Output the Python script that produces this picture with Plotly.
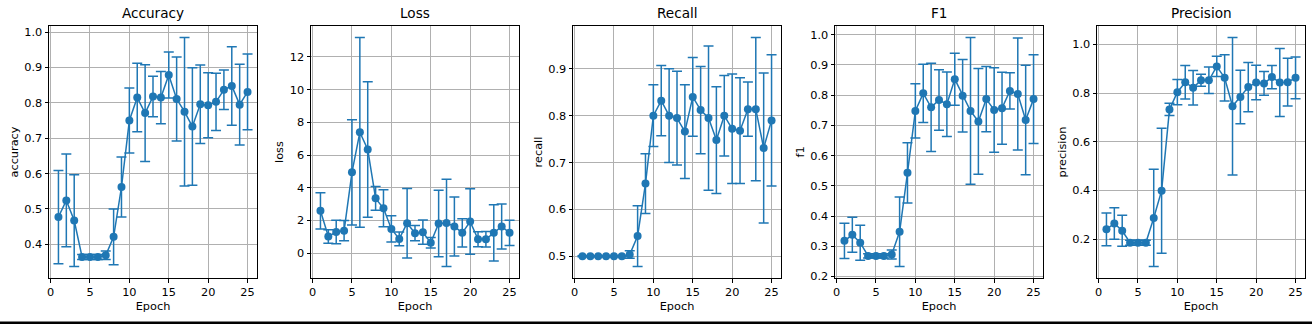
import plotly.graph_objects as go

epochs = list(range(1, 26))

accuracy = [0.477, 0.524, 0.467, 0.364, 0.364, 0.364, 0.369, 0.421, 0.562, 0.750, 0.815, 0.771, 0.818,
            0.815, 0.879, 0.811, 0.775, 0.733, 0.796, 0.793, 0.803, 0.837, 0.848, 0.795, 0.831]
accuracy_err = [0.132, 0.131, 0.130, 0.007, 0.007, 0.007, 0.012, 0.079, 0.085, 0.092, 0.097, 0.137, 0.057,
                0.074, 0.065, 0.119, 0.210, 0.166, 0.111, 0.092, 0.081, 0.056, 0.111, 0.114, 0.107]

loss = [2.59, 1.02, 1.29, 1.37, 4.94, 7.39, 6.34, 3.35, 2.74, 1.48, 0.87, 1.83, 1.22,
        1.28, 0.63, 1.81, 1.85, 1.63, 1.24, 1.93, 0.85, 0.85, 1.24, 1.63, 1.24]
loss_err = [1.11, 0.41, 0.72, 0.62, 3.22, 5.80, 4.14, 0.72, 1.13, 0.80, 0.42, 2.13, 0.47,
            0.74, 0.32, 2.03, 2.67, 1.81, 0.87, 2.00, 0.46, 0.47, 1.72, 1.38, 0.77]

recall = [0.500, 0.500, 0.500, 0.500, 0.500, 0.500, 0.5035, 0.543, 0.655, 0.800, 0.832, 0.800, 0.795,
          0.766, 0.840, 0.812, 0.795, 0.748, 0.800, 0.772, 0.768, 0.814, 0.814, 0.731, 0.790]
recall_err = [0.001, 0.001, 0.001, 0.001, 0.001, 0.001, 0.008, 0.065, 0.064, 0.066, 0.075, 0.100, 0.100,
              0.100, 0.084, 0.093, 0.154, 0.114, 0.086, 0.117, 0.113, 0.058, 0.153, 0.160, 0.140]

f1 = [0.318, 0.338, 0.312, 0.268, 0.268, 0.268, 0.273, 0.348, 0.543, 0.748, 0.806, 0.760, 0.784,
      0.770, 0.853, 0.798, 0.748, 0.713, 0.787, 0.751, 0.757, 0.814, 0.804, 0.718, 0.787]
f1_err = [0.058, 0.058, 0.058, 0.007, 0.007, 0.007, 0.015, 0.115, 0.100, 0.090, 0.096, 0.146, 0.100,
          0.107, 0.086, 0.120, 0.243, 0.175, 0.108, 0.140, 0.119, 0.060, 0.185, 0.181, 0.147]

precision = [0.240, 0.264, 0.234, 0.185, 0.185, 0.185, 0.287, 0.399, 0.733, 0.804, 0.845, 0.822, 0.853,
             0.853, 0.910, 0.863, 0.746, 0.784, 0.825, 0.844, 0.840, 0.866, 0.844, 0.845, 0.863]
precision_err = [0.067, 0.065, 0.064, 0.010, 0.010, 0.010, 0.200, 0.257, 0.025, 0.052, 0.069, 0.071, 0.025,
                 0.054, 0.042, 0.095, 0.283, 0.110, 0.101, 0.071, 0.049, 0.048, 0.140, 0.098, 0.086]

titles = ["Accuracy", "Loss", "Recall", "F1", "Precision"]
ylabels = ["accuracy", "loss", "recall", "f1", "precision"]
series = [accuracy, loss, recall, f1, precision]
errors = [accuracy_err, loss_err, recall_err, f1_err, precision_err]
ydticks = [0.1, 2, 0.1, 0.1, 0.2]
yformats = [".1f", "d", ".1f", ".1f", ".1f"]
xticks = [0, 5, 10, 15, 20, 25]

W, H = 1312, 324
ML, MR, MT, MB = 49, 7, 26, 46
PW = W - ML - MR
FONT = "DejaVu Sans"
BLUE = "#1f77b4"

fig = go.Figure()
annotations = []
for i in range(5):
    k = i + 1
    xa = "x" if k == 1 else f"x{k}"
    ya = "y" if k == 1 else f"y{k}"
    fig.add_trace(go.Scatter(
        x=epochs, y=series[i], xaxis=xa, yaxis=ya, mode="lines+markers",
        line=dict(color=BLUE, width=1.5),
        marker=dict(color=BLUE, size=8),
        error_y=dict(type="data", array=errors[i], visible=True, color=BLUE, thickness=1.5, width=5),
        showlegend=False,
    ))
    lo = min(v - e for v, e in zip(series[i], errors[i]))
    hi = max(v + e for v, e in zip(series[i], errors[i]))
    pad = (hi - lo) * 0.05
    xlo, xhi = min(epochs), max(epochs)
    xpad = (xhi - xlo) * 0.05
    d0 = (262 * i) / PW
    d1 = (262 * i + 208) / PW
    axis_common = dict(
        showline=True, mirror=True, linecolor="black", linewidth=1,
        ticks="outside", ticklen=3.5, tickwidth=1, tickcolor="black",
        showgrid=True, gridcolor="#b0b0b0", gridwidth=0.8, zeroline=False,
        tickfont=dict(family=FONT, size=11.3, color="black"),
    )
    fig.layout[("xaxis" if k == 1 else f"xaxis{k}")] = dict(
        axis_common, domain=[d0, d1], anchor=ya, range=[xlo - xpad, xhi + xpad],
        tickvals=xticks, ticktext=[str(t) for t in xticks],
        title=dict(text="Epoch", font=dict(family=FONT, size=11.3, color="black"), standoff=4),
    )
    fig.layout[("yaxis" if k == 1 else f"yaxis{k}")] = dict(
        axis_common, domain=[0, 1], anchor=xa, range=[lo - pad, hi + pad],
        dtick=ydticks[i], tick0=0, tickformat=yformats[i],
        title=dict(text=ylabels[i], font=dict(family=FONT, size=11.3, color="black"), standoff=3),
    )
    annotations.append(dict(
        text=titles[i], x=(d0 + d1) / 2, y=1, xref="paper", yref="paper",
        xanchor="center", yanchor="bottom", yshift=3, showarrow=False,
        font=dict(family=FONT, size=13.6, color="black"),
    ))

fig.update_layout(
    width=W, height=H,
    margin=dict(l=ML, r=MR, t=MT, b=MB),
    paper_bgcolor="white", plot_bgcolor="white",
    annotations=annotations,
    shapes=[dict(type="rect", xref="paper", yref="paper",
                 x0=-ML / PW, x1=1 + MR / PW,
                 y0=-(H - MT - (H - MT - MB)) / (H - MT - MB) - 0.01,
                 y1=-(321.5 - (H - MB)) / (H - MT - MB) ,
                 fillcolor="black", line=dict(width=0), layer="above")],
)

fig.write_html("out.html")
